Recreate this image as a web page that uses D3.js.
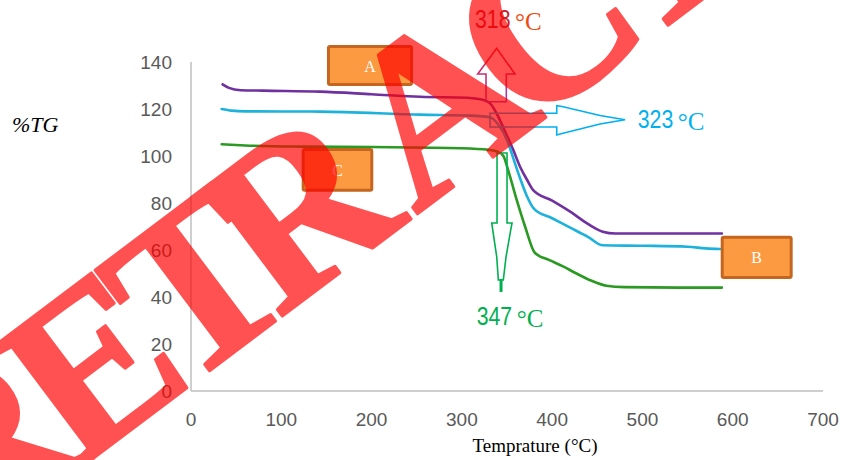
<!DOCTYPE html>
<html><head><meta charset="utf-8">
<script src="https://cdn.jsdelivr.net/npm/d3@7"></script>
<style>html,body{margin:0;padding:0;background:#fff;} svg{display:block;}</style>
</head><body><svg id="c" width="843" height="460"></svg>
<script>
// ---- data ----
const xTicks = [0, 100, 200, 300, 400, 500, 600, 700];
const yTicks = [0, 20, 40, 60, 80, 100, 120, 140];

const tempA = [35, 42, 55, 80, 143, 200, 254, 306, 322, 331, 340, 346, 357, 365, 372, 379, 400, 420, 440, 456, 470, 520, 588];
const tgA   = [130.5, 129, 128, 127.8, 127.4, 126.3, 125.2, 124.8, 124, 122.5, 117, 112, 102.5, 95, 90, 85.5, 81, 76.3, 71, 67.8, 67, 67, 67];

const tempB = [34, 45, 60, 143, 254, 310, 331, 342, 350, 357, 365, 372, 380, 400, 420, 440, 456, 500, 550, 570, 586];
const tgB   = [120, 119.3, 119, 118.9, 117.6, 117.2, 116.5, 112.5, 106.8, 99, 90, 83, 77.5, 73.5, 69.5, 65.5, 62, 61.8, 61.4, 60.7, 60.4];

const tempC = [34, 60, 120, 200, 300, 330, 340, 346, 352, 361, 370, 381, 397, 412, 427, 443, 460, 480, 540, 588];
const tgC   = [105, 104.5, 104, 103.8, 103.3, 102.6, 101.8, 100, 93, 81, 70, 58.7, 55.7, 53, 50, 47, 44.8, 44.2, 44, 44];

const boxLabels = ["A", "B", "C"];
const onsetLabels = ["318", "323", "347"];
const xTitle = "Temprature (\u00B0C)";
const yTitle = "%TG";
const watermark = "RETRACTED";

// ---- drawing ----
const svg = d3.select("#c");
const x = d3.scaleLinear().domain([0, 700]).range([191, 823]);
const y = d3.scaleLinear().domain([0, 140]).range([391, 62]);

const tickFont = "'Liberation Sans', Arial, sans-serif";
const serif = "'Liberation Serif', 'Times New Roman', serif";

// axes lines
svg.append("line").attr("x1", x(0)).attr("x2", x(700)).attr("y1", y(0)).attr("y2", y(0))
  .attr("stroke", "#bfbfbf").attr("stroke-width", 1.5);
svg.append("line").attr("x1", x(0)).attr("x2", x(0)).attr("y1", y(0)).attr("y2", y(140))
  .attr("stroke", "#bfbfbf").attr("stroke-width", 1.5);

// tick labels
svg.append("g").selectAll("text").data(xTicks).join("text")
  .attr("x", d => x(d)).attr("y", 426).attr("text-anchor", "middle")
  .attr("font-family", tickFont).attr("font-size", 19).attr("fill", "#595959").text(d => d);
svg.append("g").selectAll("text").data(yTicks).join("text")
  .attr("x", 172).attr("y", d => y(d) + 7).attr("text-anchor", "end")
  .attr("font-family", tickFont).attr("font-size", 19).attr("fill", "#595959").text(d => d);

// titles
svg.append("text").attr("x", 535).attr("y", 452).attr("text-anchor", "middle")
  .attr("font-family", serif).attr("font-size", 19).attr("fill", "#000").text(xTitle);
svg.append("text").attr("x", 12).attr("y", 132)
  .attr("font-family", serif).attr("font-style", "italic").attr("font-size", 22).attr("fill", "#000").text(yTitle);

// curves
const line = d3.line().x(d => x(d[0])).y(d => y(d[1])).curve(d3.curveMonotoneX);
const series = [
  {t: tempA, v: tgA, c: "#7030a0"},
  {t: tempB, v: tgB, c: "#1cb2dc"},
  {t: tempC, v: tgC, c: "#2a9a22"}
];
svg.append("g").selectAll("path").data(series).join("path")
  .attr("d", s => line(s.t.map((t, i) => [t, s.v[i]])))
  .attr("fill", "none").attr("stroke", s => s.c).attr("stroke-width", 2.6)
  .attr("stroke-linejoin", "round").attr("stroke-linecap", "round");

// boxes
const boxes = [
  {lab: boxLabels[0], t0: 150.6, t1: 245.9, v0: 129.8, v1: 147.2},
  {lab: boxLabels[1], t0: 586.7, t1: 666.4, v0: 47.7, v1: 66.1},
  {lab: boxLabels[2], t0: 122.6, t1: 201.9, v0: 84.8, v1: 103.4}
];
const bg = svg.append("g");
boxes.forEach(b => {
  bg.append("rect").attr("x", x(b.t0) + 1.5).attr("y", y(b.v1) + 1.5)
    .attr("width", x(b.t1) - x(b.t0) - 3).attr("height", y(b.v0) - y(b.v1) - 3)
    .attr("fill", "#fb9a40").attr("stroke", "#c4661f").attr("stroke-width", 3).attr("rx", 1.5);
  bg.append("text").attr("x", (x(b.t0) + x(b.t1)) / 2).attr("y", (y(b.v0) + y(b.v1)) / 2 + 6)
    .attr("text-anchor", "middle").attr("font-family", serif).attr("font-size", 16)
    .attr("fill", "#fff").text(b.lab);
});

// arrows
const defs = svg.append("defs");
const grad = defs.append("linearGradient").attr("id", "ug").attr("gradientUnits", "userSpaceOnUse")
  .attr("x1", 0).attr("x2", 0).attr("y1", 102).attr("y2", 48);
grad.append("stop").attr("offset", 0).attr("stop-color", "#a040b0");
grad.append("stop").attr("offset", 1).attr("stop-color", "#e8203a");

const up = [x(338.6), y(145.8)];
const upPts = [[0,0],[18.3,25.7],[9.6,25.7],[9.6,53.4],[-10.7,53.4],[-10.7,25.7],[-19,25.7]];
svg.append("polygon").attr("points", upPts.map(p => [up[0] + p[0], up[1] + p[1]].join(",")).join(" "))
  .attr("fill", "none").attr("stroke", "url(#ug)").attr("stroke-width", 1.6);

const rt = [x(331.2), y(115.3)];
const rtPts = [[0,-6.8],[66.7,-6.8],[66.7,-14.4],[72,-13.6],[110,-4.5],[135,-0.3],[110,4],[72,13.4],[66.7,15],[66.7,6.9],[0,6.9]];
svg.append("polygon").attr("points", rtPts.map(p => [rt[0] + p[0], rt[1] + p[1]].join(",")).join(" "))
  .attr("fill", "none").attr("stroke", "#00b0f0").attr("stroke-width", 1.6);

const dn = [x(344.5), y(101.3)];
const dnPts = [[-5,0],[5,0],[5,70],[10,70],[8.7,77],[4,104],[1.3,127],[-3.7,127],[-5.3,104],[-9.3,77],[-10.3,70],[-5,70]];
svg.append("polygon").attr("points", dnPts.map(p => [dn[0] + p[0], dn[1] + p[1]].join(",")).join(" "))
  .attr("fill", "none").attr("stroke", "#00b050").attr("stroke-width", 1.6);
svg.append("line").attr("x1", dn[0] - 1).attr("x2", dn[0] - 1).attr("y1", dn[1] + 126).attr("y2", dn[1] + 139)
  .attr("stroke", "#00b050").attr("stroke-width", 3);

// onset labels (one text each, tspans)
const onsets = [
  {lab: onsetLabels[0], t: 314.6, v: 154.5, cNum: "#c8202c", cDeg: "#f04a10"},
  {lab: onsetLabels[1], t: 494.8, v: 111.8, cNum: "#00b0f0", cDeg: "#00b0f0"},
  {lab: onsetLabels[2], t: 316.4, v: 28.1, cNum: "#00b050", cDeg: "#00b050"}
];
onsets.forEach(o => {
  const px = x(o.t), py = y(o.v);
  const t = svg.append("text").attr("x", px).attr("y", py);
  t.append("tspan").attr("font-family", tickFont).attr("font-size", 25)
    .attr("textLength", 35.5).attr("lengthAdjust", "spacingAndGlyphs").attr("fill", o.cNum).text(o.lab);
  t.append("tspan").attr("x", px + 40).attr("dy", 2).attr("font-family", serif).attr("font-size", 25)
    .attr("fill", o.cDeg).text("\u00B0C");
});

// watermark
svg.append("g").attr("opacity", 0.68)
  .append("text").attr("transform", "translate(-39,558) rotate(-37)")
  .attr("dx", "0 0 0 -12 28 -8 0 0 0")
  .attr("font-family", serif).attr("font-weight", "bold").attr("font-size", 228)
  .attr("letter-spacing", -20)
  .attr("fill", "#ff0000").attr("stroke", "#ff0000").attr("stroke-width", 3)
  .attr("stroke-linejoin", "round").text(watermark);
</script></body></html>
